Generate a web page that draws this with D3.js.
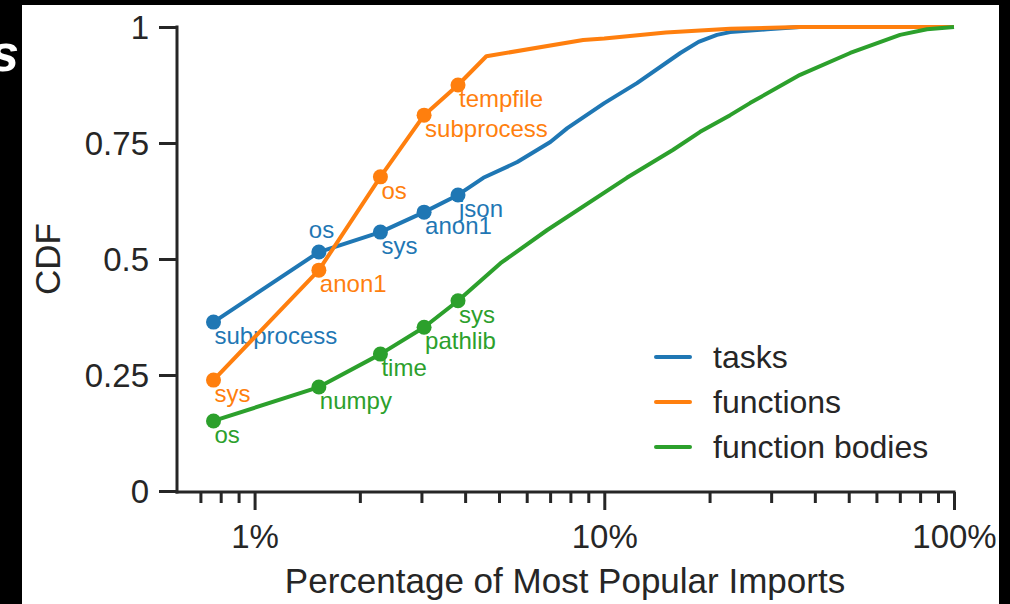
<!DOCTYPE html>
<html>
<head>
<meta charset="utf-8">
<script src="https://cdn.jsdelivr.net/npm/d3@7"></script>
<style>
  body { margin: 0; background: #000; }
  svg { display: block; font-family: "Liberation Sans", Arial, sans-serif; }
</style>
</head>
<body>
<script>
// x values are percentages of most popular imports, y values are CDF
var seriesNames = ["tasks", "functions", "function bodies"];
var seriesColors = ["#1f77b4", "#ff7f0e", "#2ca02c"];

var tasksX = [0.763, 1.527, 2.29, 3.053, 3.817, 4.51, 5.64, 7.01, 7.84, 10, 12.4, 16.5, 18.6, 21.0, 22.9, 29.2, 36.3, 100];
var tasksY = [0.364, 0.515, 0.558, 0.601, 0.638, 0.675, 0.709, 0.752, 0.782, 0.836, 0.879, 0.944, 0.968, 0.983, 0.989, 0.995, 1.0, 1.0];
var tasksLabels = ["subprocess", "os", "sys", "anon1", "json"];

var functionsX = [0.763, 1.527, 2.29, 3.053, 3.817, 4.6, 8.7, 10, 15, 22.9, 36, 100];
var functionsY = [0.239, 0.476, 0.677, 0.81, 0.875, 0.937, 0.972, 0.975, 0.988, 0.996, 1.0, 1.0];
var functionsLabels = ["sys", "anon1", "os", "subprocess", "tempfile"];

var bodiesX = [0.763, 1.527, 2.29, 3.053, 3.817, 5.05, 6.87, 11.6, 15.7, 18.8, 22.9, 26.1, 36.3, 50.5, 70.1, 83.7, 100];
var bodiesY = [0.151, 0.224, 0.295, 0.353, 0.41, 0.491, 0.5625, 0.675, 0.735, 0.774, 0.81, 0.836, 0.897, 0.944, 0.983, 0.995, 1.0];
var bodiesLabels = ["os", "numpy", "time", "pathlib", "sys"];

var yTicks = [0, 0.25, 0.5, 0.75, 1];
var yTickLabels = ["0", "0.25", "0.5", "0.75", "1"];
var xMajorTicks = [1, 10, 100];
var xMinorTicks = [0.7, 0.8, 0.9, 2, 3, 4, 5, 6, 7, 8, 9, 20, 30, 40, 50, 60, 70, 80, 90];

var series = [
	{ x: tasksX, y: tasksY, labels: tasksLabels },
	{ x: functionsX, y: functionsY, labels: functionsLabels },
	{ x: bodiesX, y: bodiesY, labels: bodiesLabels }
];

var W = 1010, H = 604;
var ink = "#262626";

var svg = d3.select("body").append("svg")
	.attr("width", W)
	.attr("height", H);

svg.append("rect").attr("width", W).attr("height", H).attr("fill", "#000");

// cut-off title letter peeking in from the left
svg.append("text")
	.attr("x", -10).attr("y", 71)
	.attr("fill", "#fff")
	.attr("font-size", 52)
	.attr("font-weight", "bold")
	.attr("font-style", "italic")
	.text("s");

svg.append("rect")
	.attr("x", 22).attr("y", 5)
	.attr("width", 977).attr("height", H - 5)
	.attr("fill", "#fff");

var xScale = d3.scaleLog().domain([0.6, 100]).range([177, 954]);
var yScale = d3.scaleLinear().domain([0, 1]).range([491, 27]);

// y axis
var yAxis = svg.append("g")
	.attr("transform", "translate(177,0)")
	.call(d3.axisLeft(yScale)
		.tickValues(yTicks)
		.tickFormat(function(d, i) { return yTickLabels[i]; })
		.tickSize(18)
		.tickPadding(10));

// x axis: minor ticks first, then labelled majors
svg.append("g")
	.attr("transform", "translate(0,492)")
	.call(d3.axisBottom(xScale)
		.tickValues(xMinorTicks)
		.tickFormat("")
		.tickSize(11)
		.tickSizeOuter(0));

var xAxis = svg.append("g")
	.attr("transform", "translate(0,492)")
	.call(d3.axisBottom(xScale)
		.tickValues(xMajorTicks)
		.tickFormat(function(d) { return d + "%"; })
		.tickSize(18)
		.tickSizeOuter(0)
		.tickPadding(15));

svg.selectAll(".domain").remove();
svg.append("line")
	.attr("x1", 177).attr("x2", 177)
	.attr("y1", yScale(1) - 1.5).attr("y2", 493.5)
	.attr("stroke", ink).attr("stroke-width", 3);
svg.append("line")
	.attr("x1", 175.5).attr("x2", xScale(100) + 1.5)
	.attr("y1", 492).attr("y2", 492)
	.attr("stroke", ink).attr("stroke-width", 3);

svg.selectAll(".tick line").attr("stroke", ink).attr("stroke-width", 3);
svg.selectAll(".tick text")
	.attr("fill", ink)
	.attr("font-size", 33)
	.attr("font-family", "Liberation Sans, Arial, sans-serif");
yAxis.selectAll(".tick text").attr("dy", "0.36em");

// axis titles
svg.append("text")
	.attr("x", 565).attr("y", 593)
	.attr("text-anchor", "middle")
	.attr("fill", ink)
	.attr("font-size", 35)
	.text("Percentage of Most Popular Imports");

svg.append("text")
	.attr("transform", "translate(60,259) rotate(-90)")
	.attr("text-anchor", "middle")
	.attr("fill", ink)
	.attr("font-size", 35)
	.text("CDF");

var line = d3.line()
	.x(function(d) { return xScale(d[0]); })
	.y(function(d) { return yScale(d[1]); });

series.forEach(function(s, si) {
	var pts = s.x.map(function(v, i) { return [v, s.y[i]]; });
	var color = seriesColors[si];

	svg.append("path")
		.datum(pts)
		.attr("fill", "none")
		.attr("stroke", color)
		.attr("stroke-width", 4)
		.attr("stroke-linejoin", "round")
		.attr("d", line);

	var marked = pts.slice(0, s.labels.length);
	svg.selectAll(null)
		.data(marked)
		.enter()
		.append("circle")
		.attr("cx", function(d) { return xScale(d[0]); })
		.attr("cy", function(d) { return yScale(d[1]); })
		.attr("r", 7.5)
		.attr("fill", color);

	svg.selectAll(null)
		.data(marked)
		.enter()
		.append("text")
		.attr("x", function(d, i) {
			// the "os" label of tasks sits above its point
			return xScale(d[0]) + (si === 0 && i === 1 ? -10 : 1);
		})
		.attr("y", function(d, i) {
			return yScale(d[1]) + (si === 0 && i === 1 ? -14 : 22);
		})
		.attr("fill", color)
		.attr("font-size", 24)
		.text(function(d, i) { return s.labels[i]; });
});

// legend
var legend = svg.append("g");
seriesNames.forEach(function(name, i) {
	var ly = 357 + i * 45;
	legend.append("line")
		.attr("x1", 656).attr("x2", 690)
		.attr("y1", ly).attr("y2", ly)
		.attr("stroke", seriesColors[i])
		.attr("stroke-width", 4)
		.attr("stroke-linecap", "round");
	legend.append("text")
		.attr("x", 713).attr("y", ly)
		.attr("dy", "0.35em")
		.attr("fill", ink)
		.attr("font-size", 32)
		.text(name);
});
</script>
</body>
</html>
